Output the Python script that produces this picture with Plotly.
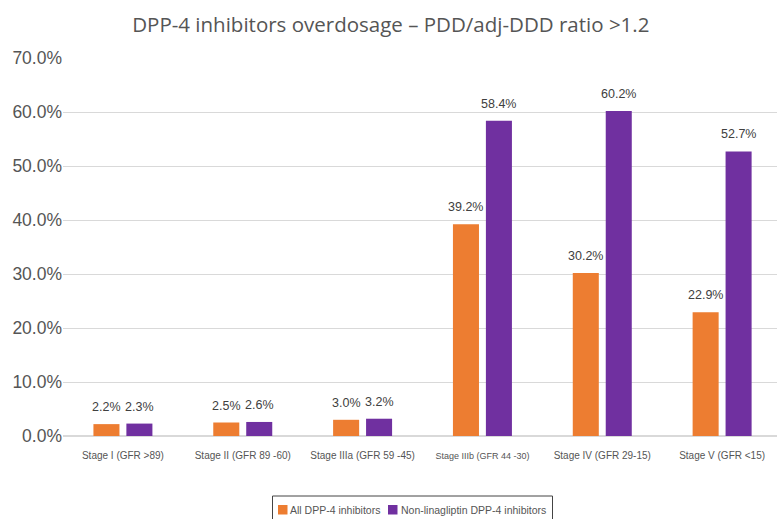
import plotly.graph_objects as go

categories = ["Stage I (GFR >89)", "Stage II (GFR 89 -60)", "Stage IIIa (GFR 59 -45)",
              "Stage IIIb (GFR 44 -30)", "Stage IV (GFR 29-15)", "Stage V (GFR <15)"]
tick_labels = ["Stage I (GFR >89)", "Stage II (GFR 89 -60)", "Stage IIIa (GFR 59 -45)",
               "<span style='font-size:9px'>Stage IIIb (GFR 44 -30)</span>", "Stage IV (GFR 29-15)", "Stage V (GFR <15)"]
all_dpp4 = [2.2, 2.5, 3.0, 39.2, 30.2, 22.9]
non_lina = [2.3, 2.6, 3.2, 58.4, 60.2, 52.7]
y_ticks = [0, 10, 20, 30, 40, 50, 60, 70]
series_names = ["All DPP-4 inhibitors", "Non-linagliptin DPP-4 inhibitors"]
series_colors = ["#ED7D31", "#7030A0"]

# plot-area geometry (px) used to place the hand-drawn legend in paper coords
L, T, W, H = 63, 58, 714, 378
def px(xp):
    return (xp - L) / W
def py(yp):
    return 1 - (yp - T) / H

fig = go.Figure()
for name, vals, color, dx in zip(series_names, [all_dpp4, non_lina], series_colors, [-16.5, 16.5]):
    fig.add_trace(go.Bar(x=categories, y=vals, name=name, marker_color=color,
                         marker_line_width=0, cliponaxis=False, showlegend=False))
    for c, v in zip(categories, vals):
        fig.add_annotation(x=c, y=v, xref="x", yref="y", text=f"{v:.1f}%",
                           showarrow=False, xshift=dx, yshift=8, yanchor="bottom",
                           font=dict(size=12.5, color="#404040",
                                     family="Liberation Sans, Arial, sans-serif"))

# legend (box, swatches, labels)
fig.add_shape(type="rect", xref="paper", yref="paper", x0=px(272.5), x1=px(552.5),
              y0=py(535), y1=py(496), line=dict(color="#444444", width=1),
              fillcolor="white", layer="above")
for name, color, sx, tx in zip(series_names, series_colors, [278, 388], [288, 398.5]):
    fig.add_shape(type="rect", xref="paper", yref="paper", x0=px(sx), x1=px(sx + 9.5),
                  y0=py(514.5), y1=py(505), line=dict(width=0), fillcolor=color, layer="above")
    fig.add_annotation(x=px(tx), y=py(510), xref="paper", yref="paper", text=name,
                       showarrow=False, xanchor="left", yanchor="middle",
                       font=dict(size=10.5, color="#555555",
                                 family="Liberation Sans, Arial, sans-serif"))

fig.update_layout(
    width=777, height=519,
    margin=dict(l=L, r=0, t=T, b=519 - T - H),
    paper_bgcolor="white", plot_bgcolor="white",
    font=dict(family="Liberation Sans, Arial, sans-serif", color="#555555"),
    title=dict(text="DPP-4 inhibitors overdosage – PDD/adj-DDD ratio >1.2",
               x=0.503, xanchor="center", xref="container", y=0.952, yanchor="middle", yref="container",
               font=dict(family="Open Sans, sans-serif", size=20.5, color="#555555")),
    bargap=0.45, bargroupgap=0.21,
    showlegend=False,
    xaxis=dict(range=[-0.5, 5.458], tickmode="array", tickvals=categories, ticktext=tick_labels,
               tickfont=dict(size=10, color="#555555"), showgrid=False, ticks="",
               showline=False, automargin=False, ticklabelstandoff=12),
    yaxis=dict(range=[0, 70], tickvals=y_ticks, ticktext=[f"{v:.1f}%" for v in y_ticks],
               tickfont=dict(size=17.5, color="#555555"), showgrid=True,
               gridcolor="#D9D9D9", gridwidth=1, zeroline=True, zerolinecolor="#D9D9D9",
               zerolinewidth=1.5, ticks="", showline=False, automargin=False,
               ticklabelstandoff=0),
)

fig.write_html("out.html", config={"displayModeBar": False},
               post_script="document.body.style.margin='0';document.body.style.overflow='hidden';")
